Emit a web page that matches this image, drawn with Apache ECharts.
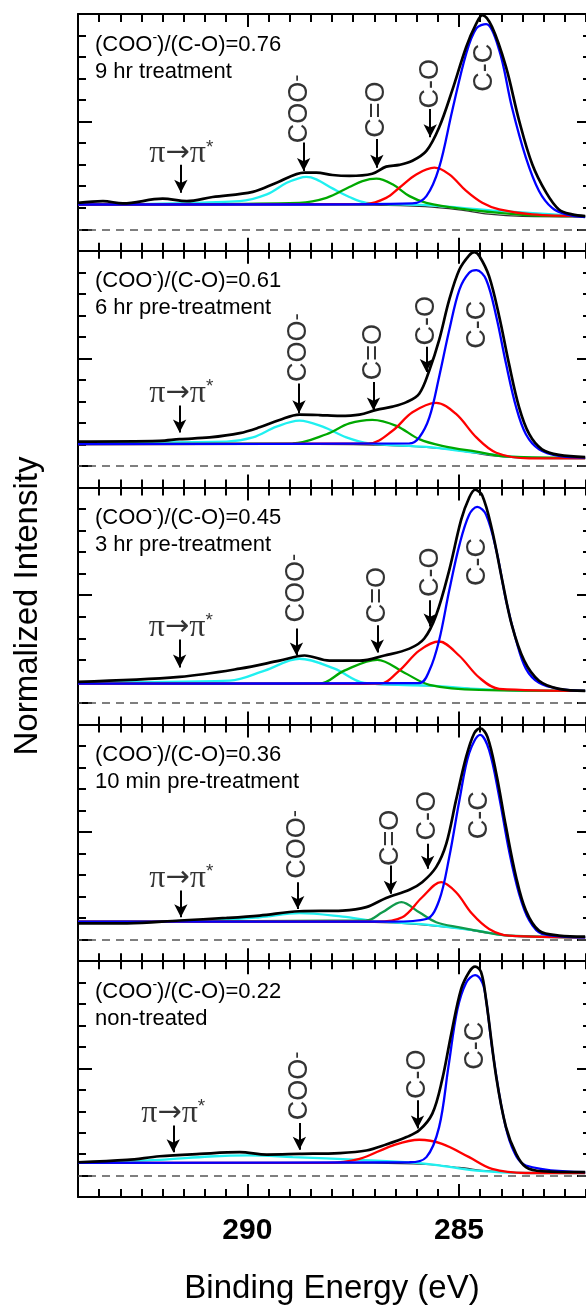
<!DOCTYPE html>
<html>
<head>
<meta charset="utf-8">
<script src="https://cdn.jsdelivr.net/npm/echarts@6/dist/echarts.min.js"></script>
<style>
html, body { margin: 0; padding: 0; background: #fff; }
#chart { width: 586px; height: 1306px; }
</style>
</head>
<body>
<div id="chart"></div>
<script>
var FONT = '"Liberation Sans", Arial, Helvetica, sans-serif';

var xMajor = [285, 290];
var yMajor = [0, 5, 10];
var ratios = ['0.76', '0.61', '0.45', '0.36', '0.22'];
var treatments = ['9 hr treatment', '6 hr pre-treatment', '3 hr pre-treatment', '10 min pre-treatment', 'non-treated'];

// panel 1 : 9 hr treatment  [eV, intensity]
var p1Total = [[294,1.23],[293.41,1.31],[292.94,1.2],[292.0,1.42],[291.43,1.31],[290.82,1.5],[289.87,1.74],[289.31,2.16],[288.65,2.63],[288.37,2.63],[287.99,2.52],[287.59,2.48],[287.05,2.58],[286.72,2.91],[286.41,2.99],[286.10,3.18],[285.77,3.64],[285.47,4.73],[285.16,6.45],[284.83,8.47],[284.59,9.56],[284.45,9.95],[284.22,9.4],[283.89,7.54],[283.58,5.05],[283.27,3.02],[282.94,1.7],[282.64,0.92],[282.33,0.69],[282.02,0.61]];
var p1CC = [[294,1.15],[288.77,1.15],[286.10,1.2],[285.77,1.54],[285.47,2.86],[285.16,5.51],[284.83,8.16],[284.59,9.33],[284.36,9.53],[284.05,8.32],[283.75,5.67],[283.42,3.33],[283.11,1.78],[282.80,0.99],[282.47,0.69],[282.02,0.56]];
var p1CO = [[294,1.15],[287.19,1.18],[286.72,1.46],[286.41,1.93],[286.01,2.55],[285.58,2.86],[285.23,2.55],[284.83,1.78],[284.45,1.23],[284.05,0.92],[283.27,0.69],[282.02,0.61]];
var p1CdO = [[294,1.15],[288.77,1.23],[288.13,1.46],[287.59,1.96],[287.28,2.24],[286.95,2.35],[286.57,2.09],[286.17,1.54],[285.77,1.23],[284.83,0.92],[284.05,0.76],[283.27,0.65],[282.02,0.61]];
var p1COO = [[294,1.15],[290.18,1.31],[289.54,1.62],[289.07,2.16],[288.77,2.38],[288.61,2.43],[288.37,2.32],[287.99,1.9],[287.59,1.5],[287.19,1.23],[285.77,1.12],[284.05,0.85],[282.02,0.6]];
var p1Bg = [[294,1.15],[287.0,1.12],[285.8,1.05],[285.0,0.9],[284.3,0.7],[283.5,0.6],[282.02,0.58]];
var p1Tags = [['pi',291.56,3.5],['coo',288.77,5.6],['cdo',286.94,5.56],['co',285.68,6.76],['cc',284.40,7.5]];
var p1Arrows = [[291.57,3.0,1.7],[288.67,4.03,2.71],[286.94,4.19,2.86],[285.68,5.59,4.27]];

// panel 2 : 6 hr pre-treatment
var p2Total = [[294,1.14],[292.07,1.17],[291.6,1.25],[290.89,1.33],[290.18,1.53],[289.71,1.8],[289.24,2.14],[288.77,2.39],[288.30,2.37],[287.82,2.33],[287.35,2.39],[286.95,2.61],[286.57,2.76],[286.24,2.97],[285.94,3.36],[285.70,4.45],[285.47,5.85],[285.23,7.73],[284.99,9.13],[284.76,9.79],[284.64,9.94],[284.52,9.76],[284.29,8.82],[284.05,6.95],[283.82,4.76],[283.58,2.73],[283.34,1.48],[283.04,0.78],[282.64,0.52],[282.02,0.42]];
var p2CC = [[294,1.02],[286.17,1.05],[285.94,1.33],[285.70,2.26],[285.47,4.14],[285.23,6.32],[284.99,8.2],[284.76,8.98],[284.59,9.1],[284.36,8.67],[284.12,6.95],[283.89,4.76],[283.65,2.73],[283.42,1.48],[283.11,0.78],[282.64,0.47],[282.02,0.39]];
var p2CO = [[294,1.02],[287.12,1.05],[286.57,1.64],[286.10,2.5],[285.54,2.94],[285.07,2.42],[284.59,1.33],[284.12,0.62],[283.34,0.36],[282.02,0.36]];
var p2CdO = [[294,1.02],[288.93,1.05],[288.13,1.48],[287.59,1.98],[287.05,2.15],[286.48,1.87],[285.94,1.25],[285.40,0.94],[284.59,0.67],[283.82,0.44],[282.02,0.39]];
var p2COO = [[294,1.1],[290.49,1.14],[289.87,1.33],[289.31,1.83],[288.77,2.11],[288.22,1.83],[287.66,1.33],[287.12,1.05],[285.77,0.89],[284.59,0.62],[283.42,0.39],[282.02,0.36]];
var p2Bg = [[294,1.05],[287.5,1.0],[286.0,0.9],[285.0,0.72],[284.3,0.5],[283.5,0.38],[282.02,0.36]];
var p2Tags = [['pi',291.56,3.36],['coo',288.78,5.5],['cdo',287.02,5.29],['co',285.77,6.75],['cc',284.56,6.56]];
var p2Arrows = [[291.6,2.81,1.56],[288.78,3.83,2.45],[287.02,3.9,2.58],[285.77,5.54,4.37]];

// panel 3 : 3 hr pre-treatment
var p3Total = [[294,0.98],[291.6,1.21],[290.18,1.59],[289.24,1.96],[288.65,2.2],[288.06,1.96],[287.35,1.96],[286.76,2.2],[286.17,2.52],[285.82,2.99],[285.54,4.07],[285.23,6.17],[284.95,8.5],[284.76,9.53],[284.62,9.9],[284.45,9.63],[284.22,8.04],[283.98,5.7],[283.75,3.6],[283.46,1.96],[283.11,1.03],[282.64,0.65],[282.02,0.56]];
var p3CC = [[294,0.89],[285.94,0.92],[285.70,1.5],[285.47,2.9],[285.23,5.23],[284.99,7.34],[284.76,8.74],[284.57,9.1],[284.36,8.74],[284.12,7.1],[283.89,4.77],[283.65,2.9],[283.42,1.59],[283.11,0.93],[282.64,0.65],[282.02,0.56]];
var p3CO = [[294,0.89],[286.88,0.89],[286.41,1.5],[285.94,2.43],[285.47,2.85],[285.0,2.2],[284.52,1.17],[284.05,0.65],[282.02,0.56]];
var p3CdO = [[294,0.89],[288.30,0.89],[287.71,1.5],[286.93,2.0],[286.29,1.4],[285.70,0.84],[284.52,0.6],[282.02,0.56]];
var p3COO = [[294,0.95],[290.42,1.03],[289.59,1.5],[288.77,2.05],[287.94,1.59],[287.24,0.93],[285.70,0.8],[284.05,0.6],[282.02,0.56]];
var p3Bg = [[294,0.9],[287.0,0.86],[285.8,0.8],[285.0,0.7],[284.3,0.6],[283.5,0.56],[282.02,0.55]];
var p3Tags = [['pi',291.57,3.5],['coo',288.84,5.33],['cdo',286.93,5.0],['co',285.68,6.07],['cc',284.57,6.54]];
var p3Arrows = [[291.6,2.94,1.64],[288.84,3.46,2.2],[286.93,3.6,2.34],[285.68,4.77,3.55]];

// panel 4 : 10 min pre-treatment
var p4Total = [[294,0.76],[292.84,0.76],[291.60,0.89],[290.49,1.01],[289.71,1.12],[288.77,1.32],[287.75,1.35],[287.19,1.51],[286.72,1.94],[286.17,2.32],[285.87,2.67],[285.54,3.37],[285.30,4.46],[285.07,6.48],[284.83,8.5],[284.64,9.59],[284.50,9.82],[284.33,9.43],[284.12,7.72],[283.89,5.24],[283.65,2.9],[283.42,1.35],[283.11,0.42],[282.64,0.19],[282.02,0.14]];
var p4CC = [[294,0.84],[286.57,0.84],[285.77,0.96],[285.47,1.82],[285.23,3.84],[284.99,6.48],[284.76,8.66],[284.50,9.51],[284.29,8.81],[284.05,6.63],[283.82,4.15],[283.58,2.13],[283.34,0.89],[283.04,0.27],[282.02,0.11]];
var p4CO = [[294,0.84],[286.95,0.84],[286.34,1.04],[285.87,1.97],[285.42,2.67],[285.07,2.2],[284.69,1.2],[284.29,0.5],[283.82,0.19],[282.02,0.11]];
var p4CdO = [[294,0.84],[287.19,0.89],[286.81,1.27],[286.36,1.74],[285.94,1.27],[285.54,0.81],[284.99,0.57],[284.36,0.34],[283.82,0.19],[282.02,0.11]];
var p4COO = [[294,0.8],[290.89,0.89],[289.71,1.04],[288.77,1.23],[287.75,1.07],[286.95,0.86],[285.77,0.7],[284.59,0.42],[283.82,0.19],[282.02,0.11]];
var p4Bg = [[294,0.82],[287.0,0.8],[285.8,0.68],[285.0,0.52],[284.3,0.3],[283.5,0.14],[282.02,0.11]];
var p4Tags = [['pi',291.56,2.83],['coo',288.81,4.43],['cdo',286.62,4.73],['co',285.74,5.76],['cc',284.52,5.78]];
var p4Arrows = [[291.57,2.28,1.04],[288.81,2.67,1.43],[286.62,3.45,2.13],[285.74,4.46,3.3]];

// panel 5 : non-treated (no C=O component)
var p5Total = [[294,0.62],[292.84,0.73],[292.07,0.9],[291.12,1.01],[290.18,1.09],[289.54,0.98],[288.77,1.01],[287.82,1.05],[287.19,1.17],[286.72,1.45],[286.24,1.8],[285.94,2.11],[285.63,2.89],[285.40,4.45],[285.18,6.64],[284.95,8.7],[284.76,9.5],[284.62,9.75],[284.48,9.5],[284.36,8.2],[284.12,4.6],[283.89,2.26],[283.65,1.01],[283.42,0.39],[283.04,0.2],[282.02,0.16]];
var p5CC = [[294,0.59],[286.17,0.62],[285.77,0.86],[285.47,2.26],[285.25,5.07],[285.04,7.73],[284.83,9.0],[284.62,9.35],[284.45,9.0],[284.36,8.2],[284.21,5.85],[283.98,3.04],[283.75,1.33],[283.42,0.47],[282.02,0.16]];
var p5CO = [[294,0.59],[288.13,0.59],[287.35,0.78],[286.57,1.4],[285.94,1.67],[285.40,1.48],[284.76,0.86],[284.22,0.31],[283.42,0.12],[282.02,0.12]];
var p5CdO = [];
var p5COO = [[294,0.59],[292.07,0.73],[290.89,0.89],[289.95,0.94],[288.93,0.86],[287.35,0.73],[285.77,0.55],[284.59,0.23],[283.42,0.12],[282.02,0.12]];
var p5Bg = [[294,0.6],[287.0,0.58],[285.8,0.52],[285.0,0.38],[284.3,0.22],[283.5,0.13],[282.02,0.12]];
var p5Tags = [['pi',291.75,2.89],['coo',288.77,4.18],['co',285.98,4.73],['cc',284.60,6.06]];
var p5Arrows = [[291.75,2.34,1.09],[288.77,2.45,1.2],[285.98,3.51,2.19]];

var panels = [
  {total: p1Total, cc: p1CC, co: p1CO, cdo: p1CdO, coo: p1COO, bg: p1Bg, tags: p1Tags, arrows: p1Arrows, green: '#00a800'},
  {total: p2Total, cc: p2CC, co: p2CO, cdo: p2CdO, coo: p2COO, bg: p2Bg, tags: p2Tags, arrows: p2Arrows, green: '#00a800'},
  {total: p3Total, cc: p3CC, co: p3CO, cdo: p3CdO, coo: p3COO, bg: p3Bg, tags: p3Tags, arrows: p3Arrows, green: '#00a800'},
  {total: p4Total, cc: p4CC, co: p4CO, cdo: p4CdO, coo: p4COO, bg: p4Bg, tags: p4Tags, arrows: p4Arrows, green: '#109a4c'},
  {total: p5Total, cc: p5CC, co: p5CO, cdo: p5CdO, coo: p5COO, bg: p5Bg, tags: p5Tags, arrows: p5Arrows, green: '#00a800'}
];

var tagText = {
  pi: '{p|π}{a|→}{p|π}{s|*}',
  coo: '{g|COO}{m|-}',
  cdo: 'C=O',
  co: 'C-O',
  cc: 'C-C'
};

var chart = echarts.init(document.getElementById('chart'));

var PANEL_TOP = 14, PANEL_H = 236.8;
var grids = [], xAxes = [], yAxes = [], series = [], titles = [];

function tickAxis(extra) {
  return Object.assign({
    type: 'value',
    splitLine: { show: false },
    axisLine: { show: false, onZero: false },
    axisLabel: { show: false },
    axisTick: { show: true, inside: true, lineStyle: { color: '#000', width: 2 } }
  }, extra);
}

panels.forEach(function (p, i) {
  var top = PANEL_TOP + i * PANEL_H;
  var last = i === panels.length - 1;
  grids.push({ left: 78, top: top, width: 509, height: PANEL_H });

  var xs = { gridIndex: i, min: 282, max: 294, inverse: true };
  // bottom major (data axis)
  xAxes.push(tickAxis(Object.assign({}, xs, {
    position: 'bottom',
    axisLine: { show: true, onZero: false, lineStyle: { color: '#000', width: 2 } },
    axisTick: { show: true, inside: true, length: 13, customValues: xMajor, lineStyle: { color: '#000', width: 2 } },
    axisLabel: { show: last, customValues: xMajor, margin: 19, color: '#000', fontSize: 30, fontWeight: 'bold', fontFamily: FONT },
    name: last ? 'Binding Energy (eV)' : '',
    nameLocation: 'middle',
    nameGap: 75,
    nameTextStyle: { fontSize: 33, color: '#000', fontFamily: FONT }
  })));
  xAxes.push(tickAxis(Object.assign({}, xs, { position: 'bottom', interval: 0.5,
    axisTick: { show: true, inside: true, length: 8, lineStyle: { color: '#000', width: 2 } } })));
  xAxes.push(tickAxis(Object.assign({}, xs, { position: 'top',
    axisLine: { show: true, onZero: false, lineStyle: { color: '#000', width: 2 } },
    axisTick: { show: true, inside: true, length: 13, customValues: xMajor, lineStyle: { color: '#000', width: 2 } } })));
  xAxes.push(tickAxis(Object.assign({}, xs, { position: 'top', interval: 0.5,
    axisTick: { show: true, inside: true, length: 8, lineStyle: { color: '#000', width: 2 } } })));

  var ys = { gridIndex: i, min: -1, max: 10 };
  yAxes.push(tickAxis(Object.assign({}, ys, { position: 'left',
    axisLine: { show: true, onZero: false, lineStyle: { color: '#000', width: 2 } },
    axisTick: { show: true, inside: true, length: 14, customValues: yMajor, lineStyle: { color: '#000', width: 2 } },
    name: i === 2 ? 'Normalized Intensity' : '',
    nameLocation: 'middle',
    nameGap: 34,
    nameTextStyle: { fontSize: 33, color: '#000', fontFamily: FONT }
  })));
  yAxes.push(tickAxis(Object.assign({}, ys, { position: 'left', interval: 1,
    axisTick: { show: true, inside: true, length: 8, lineStyle: { color: '#000', width: 2 } } })));
  yAxes.push(tickAxis(Object.assign({}, ys, { position: 'right',
    axisTick: { show: true, inside: true, length: 9, customValues: yMajor, lineStyle: { color: '#000', width: 2 } } })));
  yAxes.push(tickAxis(Object.assign({}, ys, { position: 'right', interval: 1,
    axisTick: { show: true, inside: true, length: 3, lineStyle: { color: '#000', width: 2 } } })));

  titles.push({
    left: 95, top: top + 17, padding: 0,
    text: '(COO{s|-})/(C-O)=' + ratios[i] + '\n' + treatments[i],
    textStyle: {
      fontSize: 22, fontWeight: 'normal', color: '#000', fontFamily: FONT, lineHeight: 27,
      rich: { s: { fontSize: 14, verticalAlign: 'top', lineHeight: 14, color: '#000', fontFamily: FONT } }
    }
  });

  var ax = { xAxisIndex: 4 * i, yAxisIndex: 4 * i };
  function curve(data, color, width) {
    return Object.assign({
      type: 'line', data: data, smooth: 0.35, symbol: 'none', silent: true,
      lineStyle: { color: color, width: width }, animation: false
    }, ax);
  }
  series.push(curve(p.bg, '#333', 1.2));
  series.push(curve(p.coo, '#20f0f0', 2.3));
  if (p.cdo.length) series.push(curve(p.cdo, p.green, 2.3));
  series.push(curve(p.co, '#ff0000', 2.3));
  series.push(curve(p.cc, '#0000ff', 2.3));

  var mark = [{ yAxis: 0, lineStyle: { type: [8, 6], color: '#555', width: 1.5 } }];
  p.arrows.forEach(function (a) {
    mark.push([
      { coord: [a[0], a[1]], symbol: 'none' },
      { coord: [a[0], a[2]], symbol: 'arrow', symbolSize: [10, 13] }
    ]);
  });
  var total = curve(p.total, '#000', 2.7);
  total.markLine = {
    silent: true, animation: false, symbol: 'none',
    label: { show: false },
    lineStyle: { color: '#000', width: 2, type: 'solid' },
    data: mark
  };
  series.push(total);

  series.push(Object.assign({
    type: 'scatter', symbolSize: 0, silent: true, animation: false,
    data: p.tags.map(function (t) {
      return { name: t[0], value: [t[1], t[2]], label: { rotate: t[0] === 'pi' ? 0 : 90 } };
    }),
    label: {
      show: true, position: 'inside', color: '#000', fontSize: 27, fontFamily: FONT,
      formatter: function (q) { return tagText[q.name]; },
      rich: {
        g: { fontSize: 27, color: '#000', fontFamily: FONT },
        p: { fontSize: 32, color: '#000', fontFamily: '"Liberation Serif", "DejaVu Serif", serif' },
        a: { fontSize: 29, color: '#000', fontFamily: '"DejaVu Sans", sans-serif' },
        s: { fontSize: 19, verticalAlign: 'top', color: '#000', fontFamily: FONT },
        m: { fontSize: 22, verticalAlign: 'top', color: '#000', fontFamily: FONT }
      }
    }
  }, ax));
});

chart.setOption({
  backgroundColor: '#fff',
  animation: false,
  title: titles,
  grid: grids,
  xAxis: xAxes,
  yAxis: yAxes,
  series: series
});
</script>
</body>
</html>
